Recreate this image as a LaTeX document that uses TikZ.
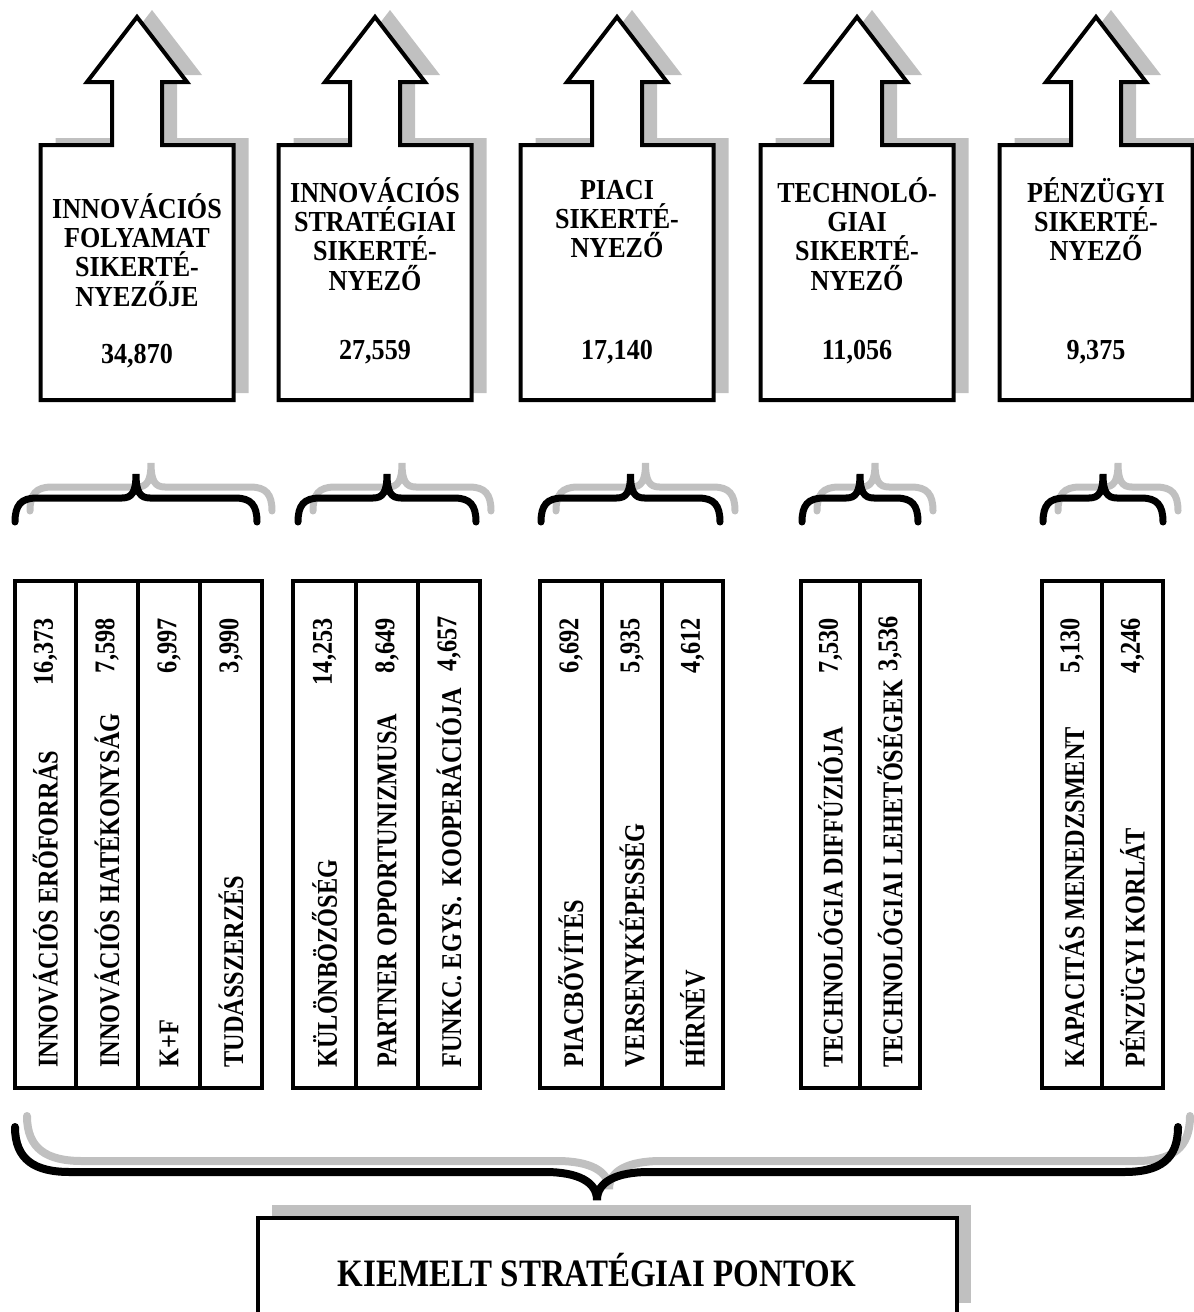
\documentclass[tikz,border=0pt]{standalone}
\usepackage{fontspec}
\setmainfont{Liberation Serif}
\newfontfamily\titleserif[FakeStretch=0.9]{Liberation Serif}
\newfontfamily\narrowserif[FakeStretch=0.85]{Liberation Serif}
\definecolor{shadowgray}{RGB}{192,192,192}

\begin{document}
\begin{tikzpicture}[x=0.5pt,y=0.5pt,yscale=-1,xscale=1,
  outline/.style={draw, line width=2pt, fill=white, line join=miter},
  dropshadow/.style={fill=shadowgray, draw=none},
  bracestroke/.style={draw, line width=3.5pt, line cap=round},
  braceshadow/.style={bracestroke, draw=shadowgray},
  titletext/.style={font=\titleserif\fontsize{14.5}{14.6}\selectfont\bfseries, align=center, inner sep=0.75pt},
  valuetext/.style={font=\titleserif\fontsize{14.5}{14.6}\selectfont\bfseries, inner sep=0.75pt},
  collabel/.style={font=\narrowserif\fontsize{14.3}{14}\selectfont\bfseries, rotate=90, anchor=west, inner sep=0pt},
  colvalue/.style={font=\narrowserif\fontsize{14.3}{14}\selectfont\bfseries, rotate=90, anchor=east, inner sep=0pt}]

\clip (0,0) rectangle (1194,1312);

%Shape: Up Arrows (shadows first)
\foreach \cx in {137,375,617,857,1096}{
  \fill [dropshadow, shift={(\cx+15,-7)}] (-96.5,400) -- (-96.5,145) -- (-25,145) -- (-25,82) -- (-50,82) -- (0,17) -- (50,82) -- (25,82) -- (25,145) -- (96.5,145) -- (96.5,400) -- cycle ;
  \draw [outline, shift={(\cx,0)}] (-96.5,400) -- (-96.5,145) -- (-25,145) -- (-25,82) -- (-50,82) -- (0,17) -- (50,82) -- (25,82) -- (25,145) -- (96.5,145) -- (96.5,400) -- cycle ;
}

% Text Node
\node [titletext] (title1) at (137,250) {INNOVÁCIÓS\\FOLYAMAT\\SIKERTÉ-\\NYEZŐJE};
\node [valuetext] (value1) at (137,356) {34,870};
% Text Node
\node [titletext] (title2) at (375,234) {INNOVÁCIÓS\\STRATÉGIAI\\SIKERTÉ-\\NYEZŐ};
\node [valuetext] (value2) at (375,352) {27,559};
% Text Node
\node [titletext] (title3) at (617,219) {PIACI\\SIKERTÉ-\\NYEZŐ};
\node [valuetext] (value3) at (617,352) {17,140};
% Text Node
\node [titletext] (title4) at (857,234) {TECHNOLÓ-\\GIAI\\SIKERTÉ-\\NYEZŐ};
\node [valuetext] (value4) at (857,352) {11,056};
% Text Node
\node [titletext] (title5) at (1096,219) {PÉNZÜGYI\\SIKERTÉ-\\NYEZŐ};
\node [valuetext] (value5) at (1096,352) {9,375};

%Shape: Small Braces
\foreach \a/\b in {15/257,298/476,541/720,802/918,1043/1163}{
  \pgfmathsetmacro{\m}{(\a+\b)/2}
  \draw [braceshadow, shift={(15,-11)}] (\a,522) .. controls (\a,505) and (\a+6,498) .. (\a+22,498) -- (\m-14,498) .. controls (\m-4,498) and (\m,492) .. (\m,474) .. controls (\m,492) and (\m+4,498) .. (\m+14,498) -- (\b-22,498) .. controls (\b-6,498) and (\b,505) .. (\b,522) ;
  \draw [bracestroke] (\a,522) .. controls (\a,505) and (\a+6,498) .. (\a+22,498) -- (\m-14,498) .. controls (\m-4,498) and (\m,492) .. (\m,474) .. controls (\m,492) and (\m+4,498) .. (\m+14,498) -- (\b-22,498) .. controls (\b-6,498) and (\b,505) .. (\b,522) ;
}

%Shape: Column Groups
\draw [outline] (15,581) rectangle (262,1088) ;
\draw [line width=2pt] (76,581) -- (76,1088) (138,581) -- (138,1088) (200,581) -- (200,1088) ;
\draw [outline] (293,581) rectangle (480,1088) ;
\draw [line width=2pt] (356,581) -- (356,1088) (418,581) -- (418,1088) ;
\draw [outline] (540,581) rectangle (723,1088) ;
\draw [line width=2pt] (602,581) -- (602,1088) (662,581) -- (662,1088) ;
\draw [outline] (801,581) rectangle (920,1088) ;
\draw [line width=2pt] (860,581) -- (860,1088) ;
\draw [outline] (1042,581) rectangle (1163,1088) ;
\draw [line width=2pt] (1102,581) -- (1102,1088) ;

% Text Node
\node [collabel] (lab11) at (45.5,1068) {INNOVÁCIÓS ERŐFORRÁS};
\node [colvalue] (val11) at (45.5,618) {16,373};
\node [collabel] (lab12) at (107,1068) {INNOVÁCIÓS HATÉKONYSÁG};
\node [colvalue] (val12) at (107,618) {7,598};
\node [collabel] (lab13) at (169,1068) {K+F};
\node [colvalue] (val13) at (169,618) {6,997};
\node [collabel] (lab14) at (231,1068) {TUDÁSSZERZÉS};
\node [colvalue] (val14) at (231,618) {3,990};
% Text Node
\node [collabel] (lab21) at (324.5,1068) {KÜLÖNBÖZŐSÉG};
\node [colvalue] (val21) at (324.5,618) {14,253};
\node [collabel] (lab22) at (387,1068) {PARTNER OPPORTUNIZMUSA};
\node [colvalue] (val22) at (387,618) {8,649};
\node [collabel] (lab23) at (449,1068) {FUNKC. EGYS.\hspace{0.35em}KOOPERÁCIÓJA};
\node [colvalue] (val23) at (449,616) {4,657};
% Text Node
\node [collabel] (lab31) at (571,1068) {PIACBŐVÍTÉS};
\node [colvalue] (val31) at (571,618) {6,692};
\node [collabel] (lab32) at (632,1068) {VERSENYKÉPESSÉG};
\node [colvalue] (val32) at (632,618) {5,935};
\node [collabel] (lab33) at (692.5,1068) {HÍRNÉV};
\node [colvalue] (val33) at (692.5,618) {4,612};
% Text Node
\node [collabel] (lab41) at (830.5,1068) {TECHNOLÓGIA DIFFÚZIÓJA};
\node [colvalue] (val41) at (830.5,618) {7,530};
\node [collabel] (lab42) at (890,1068) {TECHNOLÓGIAI LEHETŐSÉGEK};
\node [colvalue] (val42) at (890,616) {3,536};
% Text Node
\node [collabel] (lab51) at (1072,1068) {KAPACITÁS MENEDZSMENT};
\node [colvalue] (val51) at (1072,618) {5,130};
\node [collabel] (lab52) at (1132.5,1068) {PÉNZÜGYI KORLÁT};
\node [colvalue] (val52) at (1132.5,618) {4,246};

%Shape: Large Brace
\draw [braceshadow, line width=4pt, shift={(12,-11)}] (15,1127) .. controls (15,1160) and (35,1172) .. (70,1172) -- (545,1172) .. controls (578,1172) and (597,1182) .. (597,1200) .. controls (597,1182) and (616,1172) .. (649,1172) -- (1124,1172) .. controls (1159,1172) and (1178,1160) .. (1178,1127) ;
\draw [bracestroke, line width=4pt] (15,1127) .. controls (15,1160) and (35,1172) .. (70,1172) -- (545,1172) .. controls (578,1172) and (597,1182) .. (597,1200) .. controls (597,1182) and (616,1172) .. (649,1172) -- (1124,1172) .. controls (1159,1172) and (1178,1160) .. (1178,1127) ;

%Shape: Bottom Box
\fill [dropshadow] (272,1205) rectangle (971,1303) ;
\draw [outline] (258,1218) rectangle (957,1318) ;
% Text Node
\node [font=\narrowserif\fontsize{19.4}{20}\selectfont\bfseries, inner sep=0.75pt] (kiemelt) at (597,1270) {KIEMELT STRATÉGIAI PONTOK};
\end{tikzpicture}
\end{document}
